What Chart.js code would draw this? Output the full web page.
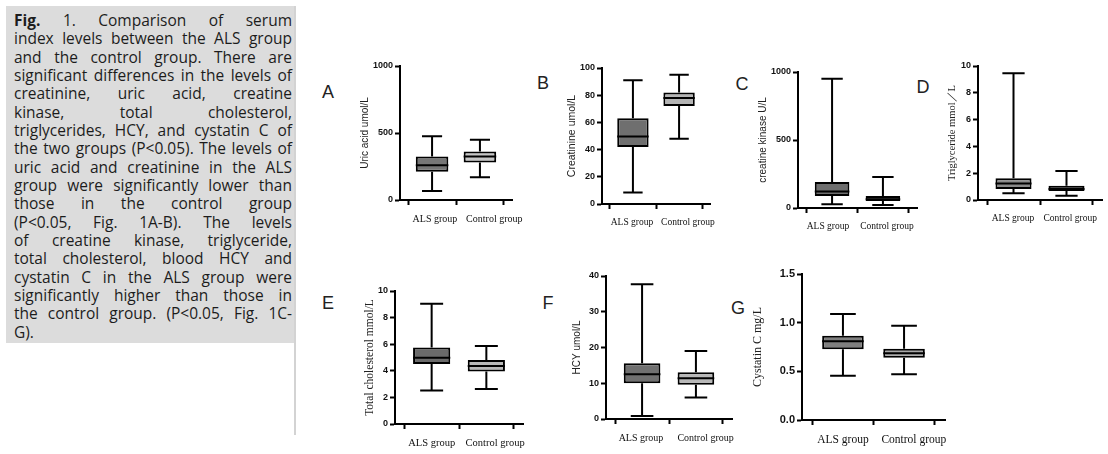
<!DOCTYPE html>
<html>
<head>
<meta charset="utf-8">
<script src="https://cdn.jsdelivr.net/npm/chart.js@4.4.1/dist/chart.umd.min.js"></script>
<style>
body{margin:0;width:1108px;height:454px;background:#fff;position:relative;overflow:hidden;font-family:"Open Sans",sans-serif}
.cap{position:absolute;left:6px;top:6px;width:289px;height:337px;background:#dcdcdc}
.rule{position:absolute;left:294px;top:6px;width:2px;height:429px;background:#d3d3d3}
.txt{position:absolute;left:14px;top:11px;width:278px;font-size:15.5px;line-height:18.33px;color:#1c1c1c}
.txt div{text-align:justify;text-align-last:justify}
.txt div.end{text-align-last:left}
.lab{position:absolute;font-family:"Liberation Sans",sans-serif;font-size:18px;line-height:20px;color:#222;width:14px;text-align:center}
canvas{position:absolute}
</style>
</head>
<body>
<div class="cap"></div>
<div class="rule"></div>
<div class="txt">
<div><b>Fig.</b> 1. Comparison of serum</div>
<div>index levels between the ALS group</div>
<div>and the control group. There are</div>
<div>significant differences in the levels of</div>
<div>creatinine, uric acid, creatine</div>
<div>kinase, total cholesterol,</div>
<div>triglycerides, HCY, and cystatin C of</div>
<div>the two groups (P&lt;0.05). The levels of</div>
<div>uric acid and creatinine in the ALS</div>
<div>group were significantly lower than</div>
<div>those in the control group</div>
<div>(P&lt;0.05, Fig. 1A-B). The levels</div>
<div>of creatine kinase, triglyceride,</div>
<div>total cholesterol, blood HCY and</div>
<div>cystatin C in the ALS group were</div>
<div>significantly higher than those in</div>
<div>the control group. (P&lt;0.05, Fig. 1C-</div>
<div class="end">G).</div>
</div>

<div class="lab" style="left:321px;top:82px">A</div>
<div class="lab" style="left:536px;top:73px">B</div>
<div class="lab" style="left:735px;top:74px">C</div>
<div class="lab" style="left:916px;top:77px">D</div>
<div class="lab" style="left:321px;top:293px">E</div>
<div class="lab" style="left:541px;top:293px">F</div>
<div class="lab" style="left:731px;top:298px">G</div>

<canvas id="cA" width="167" height="174" style="left:359px;top:56px"></canvas>
<canvas id="cB" width="152" height="176" style="left:566px;top:58px"></canvas>
<canvas id="cC" width="164" height="176" style="left:757px;top:62px"></canvas>
<canvas id="cD" width="158" height="174" style="left:946px;top:56px"></canvas>
<canvas id="cE" width="168" height="173" style="left:363px;top:281px"></canvas>
<canvas id="cF" width="169" height="183" style="left:571px;top:266px"></canvas>
<canvas id="cG" width="202" height="186" style="left:751px;top:264px"></canvas>

<script>
// 两组
var groups = ['ALS group', 'Control group'];

// 每组 [min, Q1, median, Q3, max]
var uricAcid     = [[68, 210, 260, 325, 475], [170, 280, 325, 362, 450]];
var creatinine   = [[8.4, 42, 49.6, 63, 91], [48, 72, 78, 82, 95]];
var creatineK    = [[27, 88, 122, 191, 951], [22, 51, 64, 88, 228]];
var triglyceride = [[0.5, 0.82, 1.24, 1.62, 9.45], [0.32, 0.67, 0.82, 1.07, 2.16]];
var cholesterol  = [[2.52, 4.51, 4.99, 5.76, 9.05], [2.64, 3.94, 4.36, 4.81, 5.86]];
var hcy          = [[0.84, 10.0, 12.5, 15.6, 37.7], [6.0, 9.55, 11.4, 13.1, 19.0]];
var cystatin     = [[0.455, 0.726, 0.808, 0.866, 1.089], [0.469, 0.640, 0.685, 0.733, 0.969]];

// y轴刻度
var yMax  = [1000, 100, 1000, 10, 10, 40, 1.5];
var yStep = [500, 20, 500, 2, 2, 10, 0.5];

var HALF = 0.34, CAP = 0.21;

var lineStyle = {type: 'line', borderColor: '#000', borderWidth: 2, pointRadius: 0, fill: false, tension: 0, spanGaps: false, borderCapStyle: 'butt'};

function boxChart(id, stats, k, o) {
    var box = [], whisk = [], med = [];
    stats.forEach(function(s, i) {
        box.push({x: i, y: [s[1], s[3]]});
        whisk.push({x: i, y: s[4]}, {x: i, y: s[3]}, {x: i, y: null},
                   {x: i, y: s[1]}, {x: i, y: s[0]}, {x: i, y: null},
                   {x: i - CAP, y: s[4]}, {x: i + CAP, y: s[4]}, {x: i, y: null},
                   {x: i - CAP, y: s[0]}, {x: i + CAP, y: s[0]}, {x: i, y: null});
        med.push({x: i - HALF, y: s[2]}, {x: i + HALF, y: s[2]}, {x: i, y: null});
    });
    new Chart(document.getElementById(id), {
        type: 'bar',
        data: {
            datasets: [
                Object.assign({data: med, order: 0}, lineStyle),
                {type: 'bar', data: box, order: 1, backgroundColor: o.fills, borderColor: '#000', borderWidth: 2,
                 borderSkipped: false, barPercentage: HALF * 2, categoryPercentage: 1},
                Object.assign({data: whisk, order: 2}, lineStyle)
            ]
        },
        options: {
            responsive: false,
            animation: false,
            events: [],
            layout: {padding: {top: 10, right: o.padR, left: 0, bottom: 0}},
            plugins: {legend: {display: false}, tooltip: {enabled: false}},
            scales: {
                x: {
                    type: 'linear', min: -0.67, max: 1.67, offset: false, weight: 0,
                    afterBuildTicks: function(s) { s.ticks = groups.map(function(g, i) { return {value: i}; }); },
                    afterFit: function(s) { s.height = 6; s.paddingLeft = 0; s.paddingRight = 0; },
                    ticks: {display: false},
                    grid: {drawOnChartArea: false, tickLength: 5, tickWidth: 2, tickColor: '#000'},
                    border: {color: '#000', width: 2}
                },
                // 组名标签
                x2: {
                    type: 'linear', position: 'bottom', axis: 'x', min: -0.67, max: 1.67, offset: false, weight: 1,
                    afterBuildTicks: function(s) { s.ticks = o.labelAt.map(function(p) { return {value: p}; }); },
                    afterFit: function(s) { s.height = 24; s.paddingLeft = 0; s.paddingRight = 0; },
                    ticks: {callback: function(v, i) { return groups[i]; }, autoSkip: false, maxRotation: 0,
                            font: {family: 'Liberation Serif', size: o.xSize}, color: '#111', padding: 7},
                    grid: {display: false, drawTicks: false},
                    border: {display: false}
                },
                y: {
                    min: 0, max: yMax[k],
                    afterFit: function(s) { s.width = o.yW; },
                    ticks: {stepSize: yStep[k], color: '#111', padding: 2,
                            font: {family: 'Liberation Sans', size: o.tickSize, weight: 'bold'},
                            callback: function(v) { return o.fixed ? v.toFixed(1) : v; }},
                    grid: {drawOnChartArea: false, tickLength: 5, tickWidth: 2, tickColor: '#000'},
                    border: {color: '#000', width: 2},
                    title: {display: true, text: o.title, color: '#222', padding: 0,
                            font: {family: o.tFont, size: o.tSize}}
                }
            }
        }
    });
}

boxChart('cA', uricAcid, 0, {title: 'Uric acid umol/L', tFont: 'Liberation Sans', tSize: 10, yW: 41, padR: 14,
    fills: ['#767676', '#c6c6c6'], xSize: 10, tickSize: 9, labelAt: [0.06, 1.3]});
boxChart('cB', creatinine, 1, {title: 'Creatinine umol/L', tFont: 'Liberation Sans', tSize: 10.5, yW: 36, padR: 8,
    fills: ['#6f6f6f', '#b4b4b4'], xSize: 9.5, tickSize: 9, labelAt: [-0.02, 1.19]});
boxChart('cC', creatineK, 2, {title: 'creatine kinase U/L', tFont: 'Liberation Sans', tSize: 10, yW: 41, padR: 4,
    fills: ['#6e6e6e', '#6e6e6e'], xSize: 9.5, tickSize: 9, labelAt: [-0.08, 1.08]});
boxChart('cD', triglyceride, 3, {title: 'Triglyceride mmol／L', tFont: 'Liberation Serif', tSize: 10.5, yW: 32, padR: 2,
    fills: ['#8a8a8a', '#555555'], xSize: 9.5, tickSize: 9, labelAt: [-0.01, 1.07]});
boxChart('cE', cholesterol, 4, {title: 'Total cholesterol mmol/L', tFont: 'Liberation Serif', tSize: 11.5, yW: 32, padR: 8,
    fills: ['#6a6a6a', '#b8b8b8'], xSize: 10.5, tickSize: 9, labelAt: [0, 1.16]});
boxChart('cF', hcy, 5, {title: 'HCY umol/L', tFont: 'Liberation Sans', tSize: 10, yW: 35, padR: 8,
    fills: ['#707070', '#b8b8b8'], xSize: 10, tickSize: 9, labelAt: [-0.02, 1.18]});
boxChart('cG', cystatin, 6, {title: 'Cystatin C mg/L', tFont: 'Liberation Serif', tSize: 12, yW: 51, padR: 8,
    fills: ['#7f7f7f', '#a9a9a9'], xSize: 11.5, tickSize: 11, fixed: true, labelAt: [0, 1.16]});
</script>
</body>
</html>
